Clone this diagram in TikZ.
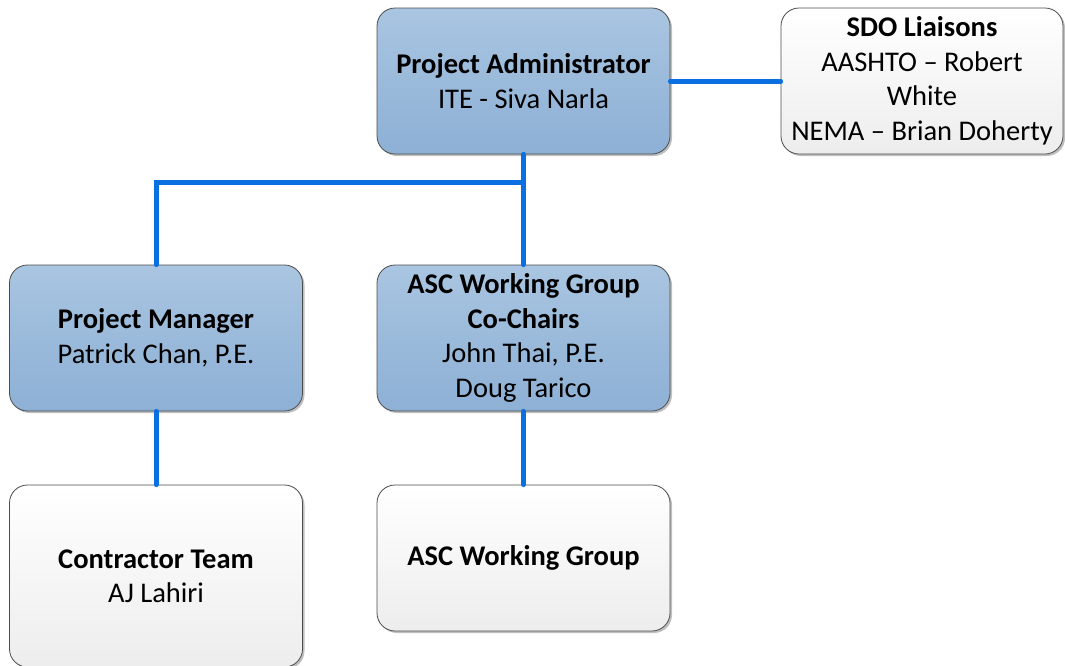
\documentclass[tikz,border=0pt]{standalone}
\usepackage{fontspec}
\setmainfont{Carlito}
\usetikzlibrary{shadows}
\definecolor{bluetop}{HTML}{A9C5E1}
\definecolor{bluebot}{HTML}{8DB0D5}
\definecolor{wtop}{HTML}{FFFFFF}
\definecolor{wbot}{HTML}{EDEDED}
\definecolor{conn}{HTML}{0A6FE0}
\begin{document}
\begin{tikzpicture}[x=1pt,y=-1pt,
  box/.style={draw=black!70, line width=0.8pt, rounded corners=18pt, minimum width=293pt,
    minimum height=146pt, align=center, inner sep=2pt,
    font=\fontsize{28.5}{34.5}\selectfont,
    drop shadow={shadow xshift=2pt, shadow yshift=-2pt, opacity=0.25, fill=black}},
  bluebox/.style={box, top color=bluetop, bottom color=bluebot},
  whitebox/.style={box, top color=wtop, bottom color=wbot},
  conline/.style={conn, line width=5pt, line cap=round}]
\useasboundingbox (0,0) rectangle (1065,665);
\clip (0,0) rectangle (1065,665);
\node[bluebox] (pa) at (523.5,81) {\textbf{Project Administrator}\\ITE - Siva Narla};
\node[whitebox, minimum width=282pt] (sdo) at (922,81) {\textbf{SDO Liaisons}\\AASHTO -- Robert\\White\\NEMA -- Brian Doherty};
\node[bluebox] (pm) at (156,338) {\textbf{Project Manager}\\Patrick Chan, P.E.};
\node[bluebox] (asc) at (523.5,338) {\textbf{ASC Working Group}\\\textbf{Co-Chairs}\\John Thai, P.E.\\Doug Tarico};
\node[whitebox, minimum height=182pt] (ct) at (156,576) {\textbf{Contractor Team}\\AJ Lahiri};
\node[whitebox] (ascwg) at (523.5,558) {\textbf{ASC Working Group}};
\coordinate (j) at (523.5,182);
\draw[conline] (pa.south) -- (asc.north);
\draw[conline] (j) -| (pm.north);
\draw[conline] (pa.east) -- (sdo.west);
\draw[conline] (pm.south) -- (ct.north);
\draw[conline] (asc.south) -- (ascwg.north);
\end{tikzpicture}
\end{document}
